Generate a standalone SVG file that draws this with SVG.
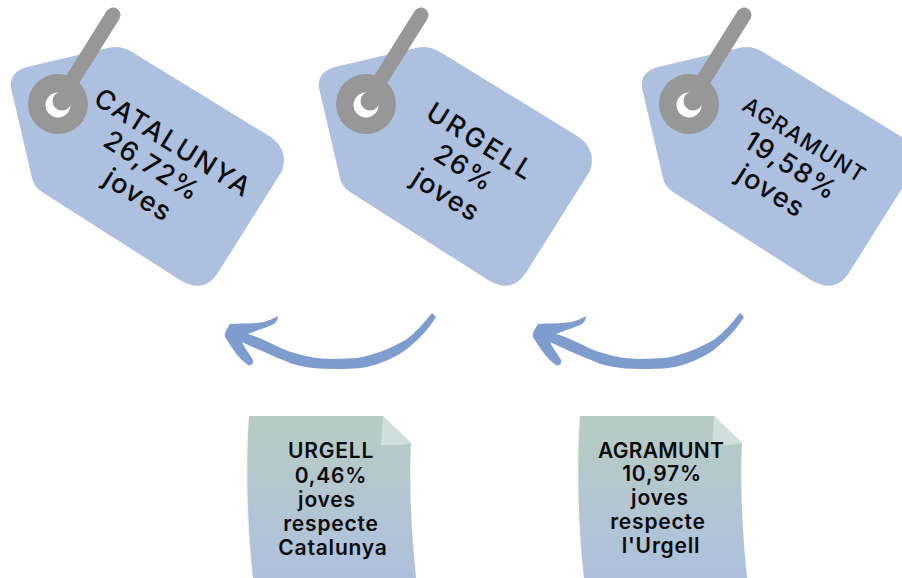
<svg xmlns="http://www.w3.org/2000/svg" xmlns:xlink="http://www.w3.org/1999/xlink" width="902" height="578" viewBox="0 0 902 578">
<style>
text{font-family:"Inter","Liberation Sans",sans-serif;fill:#0b0b0b;text-anchor:middle;font-weight:600}
.t{font-size:27px;letter-spacing:1.4px;font-weight:500}
.n{font-size:21px;letter-spacing:.8px}
.tagbody{fill:#aec0e0}
.cord{fill:#979797}
.cut{fill:#fff}
.arrow{fill:#7f9ccf}
.fold{fill:#cfdfdc}
.noteback{fill:#f3f6f0}
</style>
<defs>
<linearGradient id="ng" x1="0" y1="416" x2="0" y2="578" gradientUnits="userSpaceOnUse"><stop offset="0" stop-color="#b7ccc3"/><stop offset="1" stop-color="#afc0de"/></linearGradient>
<g id="tag">
<path class="tagbody" d="M27 67L108 48Q120 45 132 52L266 134Q290 148 282 171L219 271Q205 295 180 280L42 192Q34 187 32 178L11 88Q9 72 27 67Z"/>
<path d="M58 103L113 15" stroke="#979797" stroke-width="15" stroke-linecap="round" fill="none"/>
<circle class="cord" cx="58" cy="104" r="30"/>
<circle class="cut" cx="58" cy="105" r="12.5"/>
<circle class="cord" cx="62" cy="101" r="9.5"/>
</g>
<path id="arr" class="arrow" d="M432 313L436 317C428 330 418 340 407 349C395 358 380 364 367 367C355 369 345 369 333 369C312 369 295 366 283 360C270 355 255 348 242 342C245 349 250 354 253 360C254 364 251 366 248 365C238 358 232 348 225 337C224 334 226 330 230 324C240 323 252 324 263 322C268 321 273 319 278 316C278 320 276 322 274 324C268 327 258 330 248 334C262 338 272 344 283 349C298 355 315 359 333 359C342 359 350 358 357 358C375 355 392 348 407 339C416 332 424 323 432 313Z"/>
<g id="note">
<path class="noteback" d="M249 416C246 440 245 470 246 500C247 530 250 555 253 578H258L258 416Z"/>
<path fill="url(#ng)" d="M249 416H383L411 443C409 480 411 530 416 578H253C249 540 245 480 249 416Z"/>
<path class="fold" d="M383 416L411 443C402 446 390 445 381 445C382 436 382 426 383 416Z"/>
</g>
</defs>
<g id="connectors">
<use xlink:href="#arr" href="#arr"/>
<use xlink:href="#arr" href="#arr" x="308"/>
</g>
<g id="tag-catalunya">
<use xlink:href="#tag" href="#tag"/>
<text class="t" transform="translate(173 143) rotate(32)" y="9" style="letter-spacing:2px">CATALUNYA</text>
<text class="t" transform="translate(152 166) rotate(32)" y="9">26,72%</text>
<text class="t" transform="translate(137 197) rotate(32)" y="7">joves</text>
</g>
<g id="tag-urgell">
<use xlink:href="#tag" href="#tag" x="308"/>
<text class="t" transform="translate(481 142) rotate(32)" y="9" style="letter-spacing:3px">URGELL</text>
<text class="t" transform="translate(464 168) rotate(32)" y="9">26%</text>
<text class="t" transform="translate(445 197) rotate(32)" y="7">joves</text>
</g>
<g id="tag-agramunt">
<use xlink:href="#tag" href="#tag" x="631"/>
<text transform="translate(805 140) rotate(32)" y="8" font-size="22" style="letter-spacing:1.6px;font-weight:500">AGRAMUNT</text>
<text class="t" transform="translate(791 166) rotate(32)" y="9">19,58%</text>
<text class="t" transform="translate(770 193) rotate(32)" y="7">joves</text>
</g>
<g id="note-urgell">
<use xlink:href="#note" href="#note"/>
<text class="n" x="331" y="458">URGELL</text>
<text class="n" x="331" y="483">0,46%</text>
<text class="n" x="327" y="507">joves</text>
<text class="n" x="331" y="531">respecte</text>
<text class="n" x="333" y="555">Catalunya</text>
</g>
<g id="note-agramunt">
<use xlink:href="#note" href="#note" x="331"/>
<text class="n" x="661" y="458" style="letter-spacing:.3px">AGRAMUNT</text>
<text class="n" x="662" y="481">10,97%</text>
<text class="n" x="660" y="505">joves</text>
<text class="n" x="658" y="529">respecte</text>
<text class="n" x="661" y="553">l'Urgell</text>
</g>
</svg>
